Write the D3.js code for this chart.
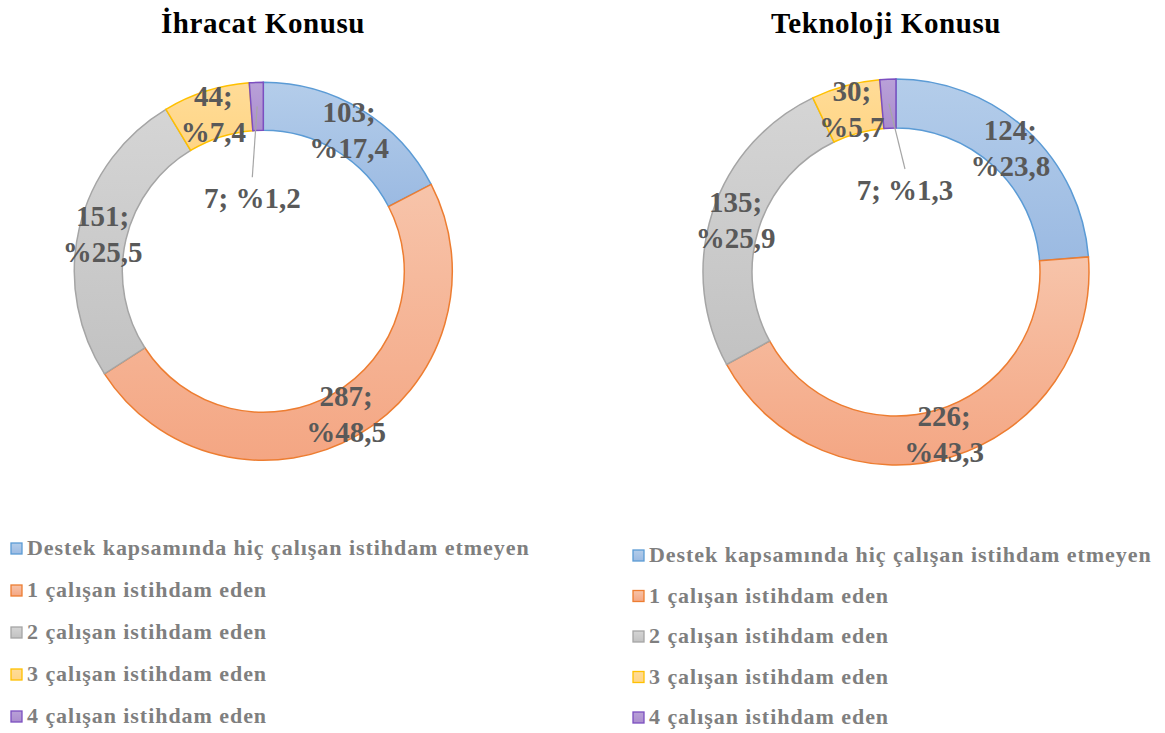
<!DOCTYPE html>
<html>
<head>
<meta charset="utf-8">
<script src="https://cdn.jsdelivr.net/npm/d3@7"></script>
<style>
  html, body { margin: 0; padding: 0; background: #fff; }
  svg { display: block; font-family: 'Liberation Serif', serif; font-weight: bold; }
</style>
</head>
<body>
<svg id="chart" width="1165" height="733"></svg>
<script>
const categories = [
  'Destek kapsamında hiç çalışan istihdam etmeyen',
  '1 çalışan istihdam eden',
  '2 çalışan istihdam eden',
  '3 çalışan istihdam eden',
  '4 çalışan istihdam eden'
]
const titles = ['İhracat Konusu', 'Teknoloji Konusu']
const ihracatValues = [103, 287, 151, 44, 7]
const ihracatPercents = ['17,4', '48,5', '25,5', '7,4', '1,2']
const teknolojiValues = [124, 226, 135, 30, 7]
const teknolojiPercents = ['23,8', '43,3', '25,9', '5,7', '1,3']

// colours per category: stroke, gradient top, gradient bottom
const strokes = ['#5b9bd5', '#ed7d31', '#a5a5a5', '#ffc000', '#7c4fc0']
const topFill = ['#b4cdea', '#f7c4aa', '#d5d5d5', '#ffdc98', '#b9a1d8']
const bottomFill = ['#9bbae2', '#f4a683', '#c2c2c2', '#ffd585', '#ab8dce']

const layouts = [
  { cx: 263.3, cy: 271.3, outer: 189, inner: 141, titleX: 263, smallDx: -11, smallDy: -63,
    legendX: 11, legendY: 555, legendStep: 42 },
  { cx: 896, cy: 272, outer: 193, inner: 144, titleX: 886, smallDx: 9, smallDy: -72,
    legendX: 633, legendY: 562, legendStep: 40.5 }
]

const svg = d3.select('#chart')
const defs = svg.append('defs')

categories.forEach((c, i) => {
  const g = defs.append('linearGradient')
    .attr('id', 'grad' + i)
    .attr('x1', 0).attr('y1', 0).attr('x2', 0).attr('y2', 1)
  g.append('stop').attr('offset', '0%').attr('stop-color', topFill[i])
  g.append('stop').attr('offset', '100%').attr('stop-color', bottomFill[i])
})

const drawDonut = (values, percents, title, lay) => {
  const pie = d3.pie().sort(null).value((d) => d)
  const arc = d3.arc().innerRadius(lay.inner).outerRadius(lay.outer)
  const arcs = pie(values)
  const total = d3.sum(values)

  svg.append('text')
    .attr('x', lay.titleX)
    .attr('y', 33)
    .attr('text-anchor', 'middle')
    .attr('font-size', 29)
    .attr('letter-spacing', 0.6)
    .attr('fill', '#000')
    .text(title)

  const g = svg.append('g').attr('transform', `translate(${lay.cx},${lay.cy})`)

  g.selectAll('path.slice')
    .data(arcs)
    .enter()
    .append('path')
    .attr('class', 'slice')
    .attr('d', arc)
    .attr('fill', (d, i) => `url(#grad${i})`)
    .attr('stroke', (d, i) => strokes[i])
    .attr('stroke-width', 1.5)

  arcs.forEach((d, i) => {
    const c = arc.centroid(d)
    if (d.data / total < 0.02) {
      const lx = lay.smallDx
      const ly = lay.smallDy
      g.append('line')
        .attr('x1', c[0]).attr('y1', c[1])
        .attr('x2', lx).attr('y2', ly - 31)
        .attr('stroke', '#a6a6a6')
        .attr('stroke-width', 1.2)
      g.append('text')
        .attr('x', lx)
        .attr('y', ly)
        .attr('text-anchor', 'middle')
        .attr('font-size', 29)
        .attr('fill', '#595959')
        .text(`${d.data}; %${percents[i]}`)
    } else {
      const t = g.append('text')
        .attr('text-anchor', 'middle')
        .attr('font-size', 29)
        .attr('fill', '#595959')
      t.append('tspan').attr('x', c[0]).attr('y', c[1] - 8).text(d.data + ';')
      t.append('tspan').attr('x', c[0]).attr('y', c[1] + 28).text('%' + percents[i])
    }
  })

  const legend = svg.append('g')
  categories.forEach((name, i) => {
    const y = lay.legendY + i * lay.legendStep
    legend.append('rect')
      .attr('x', lay.legendX)
      .attr('y', y - 12)
      .attr('width', 11)
      .attr('height', 11)
      .attr('fill', `url(#grad${i})`)
      .attr('stroke', strokes[i])
      .attr('stroke-width', 1.3)
    legend.append('text')
      .attr('x', lay.legendX + 16)
      .attr('y', y)
      .attr('font-size', 22)
      .attr('letter-spacing', 0.95)
      .attr('fill', '#7f7f7f')
      .text(name)
  })
}

drawDonut(ihracatValues, ihracatPercents, titles[0], layouts[0])
drawDonut(teknolojiValues, teknolojiPercents, titles[1], layouts[1])
</script>
</body>
</html>
